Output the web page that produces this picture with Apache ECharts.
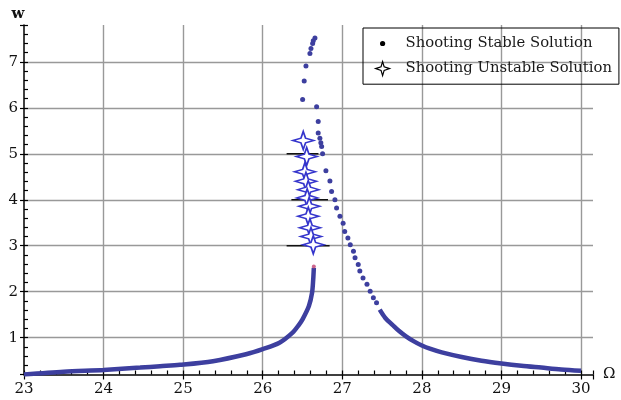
<!DOCTYPE html>
<html>
<head>
<meta charset="utf-8">
<script src="https://cdn.jsdelivr.net/npm/echarts@6/dist/echarts.min.js"></script>
<style>
  html, body { margin: 0; padding: 0; background: #fff; }
  #chart { width: 621px; height: 400px; }
</style>
</head>
<body>
<div id="chart"></div>
<script>
// stable branch, dense part left of the peak (Omega, w)
const leftOmega = [23.0, 23.5, 24.0, 24.46, 24.71, 24.96, 25.375, 25.79, 26.0, 26.21, 26.375, 26.45, 26.5, 26.58, 26.62, 26.634, 26.642]
const leftW     = [0.20, 0.26, 0.30, 0.35, 0.38, 0.41, 0.49, 0.64, 0.75, 0.89, 1.11, 1.27, 1.40, 1.69, 1.98, 2.26, 2.52]
// stable branch, dense tail right of the peak
const rightOmega = [27.47, 27.54, 27.63, 27.71, 27.8, 27.9, 28.0, 28.1, 28.25, 28.5, 28.75, 29.0, 29.25, 29.5, 29.75, 30.0]
const rightW     = [1.61, 1.43, 1.28, 1.15, 1.03, 0.92, 0.83, 0.76, 0.68, 0.58, 0.50, 0.44, 0.39, 0.35, 0.31, 0.28]
// stable branch, separate dots (top part and right branch)
const dotOmega = [26.501, 26.521, 26.543, 26.593, 26.606, 26.627, 26.635, 26.656,
  26.677, 26.697, 26.697, 26.718, 26.73, 26.74, 26.752, 26.794, 26.844, 26.865, 26.907, 26.928, 26.97,
  27.01, 27.03, 27.07, 27.10, 27.14, 27.16, 27.20, 27.22, 27.26, 27.31, 27.35, 27.39, 27.43]
const dotW = [6.18, 6.58, 6.91, 7.18, 7.29, 7.40, 7.46, 7.52,
  6.02, 5.70, 5.45, 5.34, 5.24, 5.16, 5.00, 4.63, 4.41, 4.18, 4.00, 3.82, 3.64,
  3.49, 3.31, 3.17, 3.02, 2.88, 2.74, 2.59, 2.45, 2.30, 2.16, 2.01, 1.87, 1.76]
// unstable branch (stars)
const starOmega = [26.509, 26.552, 26.530, 26.543, 26.572, 26.559, 26.584, 26.572, 26.593, 26.606, 26.635]
const starW     = [5.29, 4.94, 4.61, 4.40, 4.22, 4.04, 3.86, 3.64, 3.39, 3.20, 3.02]
// short black bars near the stars: [from, to, level]
const barFrom  = [26.30, 26.36, 26.30]
const barTo    = [26.84, 26.82, 26.70]
const barLevel = [3, 4, 5]

const pairs = (xs, ys) => xs.map((x, i) => [x, ys[i]])

const dotColor = '#3d3f9f'
const starColor = '#3535cc'
const serif = 'DejaVu Serif'
const starPath = 'path://M0,-10 L2.2,-2.6 L10,0 L2.2,2.6 L0,10 L-2.2,2.6 L-10,0 L-2.2,-2.6 Z'
const dotIcon = 'path://M-7,-7 M7,7 M2.6,0 A2.6,2.6 0 1 1 -2.6,0 A2.6,2.6 0 1 1 2.6,0 Z'

const isInt = v => Math.abs(v - Math.round(v)) < 1e-6

let option = {
  animation: false,
  grid: { left: 24, right: 28, top: 25, bottom: 25.5 },
  legend: {
    orient: 'vertical',
    left: 363,
    top: 28,
    padding: [8, 7, 8, 12],
    itemWidth: 14,
    itemHeight: 14,
    itemGap: 10,
    borderColor: '#000',
    borderWidth: 1,
    textStyle: { fontFamily: serif, fontSize: 14.8, color: '#1a1a1a', padding: [0, 0, 0, 11] },
    data: [
      { name: 'Shooting Stable Solution', icon: dotIcon, itemStyle: { color: '#000' } },
      { name: 'Shooting Unstable Solution', icon: starPath,
        itemStyle: { color: '#fff', borderColor: '#000', borderWidth: 1.2 } }
    ]
  },
  xAxis: [
    {
      type: 'value', min: 23, max: 30.15, interval: 0.2, position: 'bottom',
      name: 'Ω', nameLocation: 'end', nameGap: 10,
      nameTextStyle: { fontFamily: serif, fontSize: 15, color: '#111' },
      axisLine: { onZero: false, lineStyle: { color: '#000', width: 1.5 } },
      axisTick: { inside: true, length: 4, lineStyle: { color: '#000', width: 1.2 } },
      axisLabel: { show: false },
      splitLine: { show: false }
    },
    {
      type: 'value', min: 23, max: 30.15, interval: 1, position: 'bottom',
      axisLine: { show: false, onZero: false },
      axisTick: { inside: false, length: 5, lineStyle: { color: '#000', width: 1.2 } },
      axisLabel: {
        margin: 7, fontFamily: serif, fontSize: 15, color: '#111',
        formatter: v => isInt(v) ? String(Math.round(v)) : ''
      },
      splitLine: { show: true, showMinLine: false, showMaxLine: false,
        lineStyle: { color: '#999', width: 1.4 } }
    }
  ],
  yAxis: [
    {
      type: 'value', min: 0.2, max: 7.8, interval: 0.2, position: 'left',
      name: 'w', nameLocation: 'end', nameGap: 3,
      nameTextStyle: { fontFamily: serif, fontSize: 15, fontWeight: 'bold', color: '#111', padding: [0, 12, 0, 0] },
      axisLine: { onZero: false, lineStyle: { color: '#000', width: 1.5 } },
      axisTick: { inside: true, length: 4, lineStyle: { color: '#000', width: 1.2 } },
      axisLabel: { show: false },
      splitLine: { show: false }
    },
    {
      type: 'value', min: 0.2, max: 7.8, splitNumber: 8, minInterval: 1, maxInterval: 1, position: 'left',
      axisLine: { show: false, onZero: false },
      axisTick: { inside: false, length: 4, lineStyle: { color: '#000', width: 1.2 } },
      axisLabel: {
        margin: 6, fontFamily: serif, fontSize: 15, color: '#111',
        formatter: v => isInt(v) ? String(Math.round(v)) : ''
      },
      splitLine: { show: true, showMinLine: false, showMaxLine: false,
        lineStyle: { color: '#999', width: 1.4 } }
    }
  ],
  series: [
    {
      type: 'line', data: pairs(leftOmega, leftW), smooth: 0.3, showSymbol: false,
      lineStyle: { color: dotColor, width: 4.5 }, z: 3
    },
    {
      type: 'line', data: pairs(rightOmega, rightW), smooth: 0.3, showSymbol: false,
      lineStyle: { color: dotColor, width: 4.5 }, z: 3
    },
    {
      name: 'Shooting Stable Solution', type: 'scatter', data: pairs(dotOmega, dotW),
      symbol: 'circle', symbolSize: 5, itemStyle: { color: dotColor, opacity: 1 }, z: 4
    },
    ...barLevel.map((lv, i) => ({
      type: 'line', data: [[barFrom[i], lv], [barTo[i], lv]], showSymbol: false,
      lineStyle: { color: '#111', width: 1.5 }, z: 4
    })),
    {
      name: 'Shooting Unstable Solution', type: 'scatter', data: pairs(starOmega, starW),
      symbol: starPath, symbolSize: [21, 18],
      itemStyle: { color: '#fff', borderColor: starColor, borderWidth: 1.6, opacity: 1 }, z: 5
    },
    {
      type: 'scatter', data: [[26.642, 2.55]], symbol: 'circle', symbolSize: 4,
      itemStyle: { color: '#c04070' }, z: 6
    }
  ]
}

let chart = echarts.init(document.getElementById('chart'))
chart.setOption(option)
</script>
</body>
</html>
